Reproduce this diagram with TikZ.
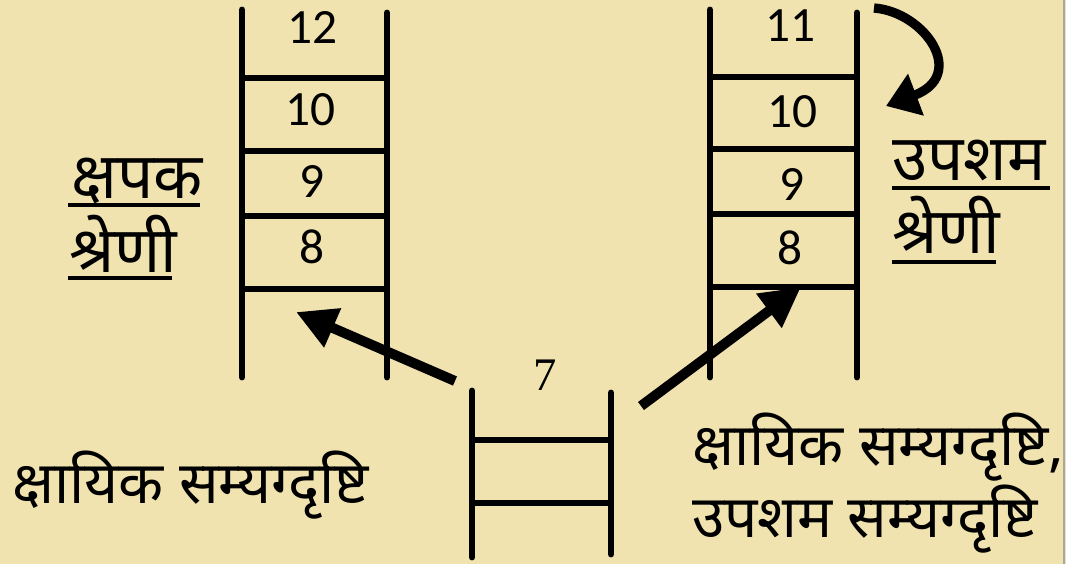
\documentclass[tikz,border=0pt]{standalone}
\usepackage{fontspec}
\setmainfont{Carlito}
\newfontfamily\dev[Script=Devanagari]{Noto Sans}
\newfontfamily\serifnum{Liberation Serif}
\usetikzlibrary{arrows.meta}
\definecolor{bg}{RGB}{240,227,176}
\tikzset{
  rail/.style={line width=5.2pt, line cap=round},
  rung/.style={line width=5.2pt},
  num/.style={font=\fontsize{37}{40}\selectfont, inner sep=0pt},
  lab/.style={font=\dev\fontsize{48}{52}\selectfont, inner sep=0pt, anchor=base west},
  txt/.style={font=\dev\fontsize{44}{48}\selectfont, inner sep=0pt, anchor=base west},
  uline/.style={line width=2.4pt},
  bigarrow/.style={line width=7.5pt, -{Triangle[length=30pt,width=30pt]}}
}
\begin{document}
\begin{tikzpicture}[x=0.75pt,y=-0.75pt]
\fill[bg] (0,0) rectangle (1066,564);
\useasboundingbox (0,0) rectangle (1066,564);
\draw[gray!70, line width=1pt] (1064,0) -- (1064,564);
% left ladder
\draw[rail] (242,10) -- (242,377);
\draw[rail] (387,13) -- (387,377);
\foreach \y in {78,151,216,289} \draw[rung] (242,\y) -- (387,\y);
\node[num] (l12) at (312,27) {12};
\node[num] (l10) at (310,110) {10};
\node[num] (l9) at (312,181) {9};
\node[num] (l8) at (312,247) {8};
% right ladder
\draw[rail] (710,10) -- (710,377);
\draw[rail] (857,13) -- (857,377);
\foreach \y in {77,149,214,287} \draw[rung] (710,\y) -- (857,\y);
\node[num] (r11) at (790,26) {11};
\node[num] (r10) at (792,112) {10};
\node[num] (r9) at (792,184) {9};
\node[num] (r8) at (790,248) {8};
% middle ladder
\draw[rail] (472,391) -- (472,557);
\draw[rail] (611,393) -- (611,554);
\foreach \y in {440,503} \draw[rung] (472,\y) -- (611,\y);
\node[num, font=\serifnum\fontsize{35}{40}\selectfont] (m7) at (545,375) {7};
% labels
\node[lab] (kshapak) at (71,198) {क्षपक};
\draw[uline] (68,205) -- (200,205);
\node[lab] (shreni1) at (69,272) {श्रेणी};
\draw[uline] (68,278) -- (172,278);
\node[lab] (upasham) at (892,180) {उपशम};
\draw[uline] (892,188) -- (1050,188);
\node[lab] (shreni2) at (892,253) {श्रेणी};
\draw[uline] (892,262) -- (996,262);
\node[txt] (ks1) at (12,503) {क्षायिक सम्यग्दृष्टि};
\node[txt] (ks2) at (692,465) {क्षायिक सम्यग्दृष्टि,};
\node[txt] (us) at (692,537) {उपशम सम्यग्दृष्टि};
% arrows
\coordinate (la1) at (455,381);
\coordinate (la2) at (296,312);
\coordinate (ra1) at (641,406);
\coordinate (ra2) at (801,287);
\draw[bigarrow] (la1) -- (la2);
\draw[bigarrow] (ra1) -- (ra2);
\coordinate (c1) at (874,8);
\coordinate (c2) at (886,106);
\draw[line width=7pt, -{Triangle[length=24pt,width=32pt]}] (c1) .. controls (925,12) and (968,75) .. (c2);
\end{tikzpicture}
\end{document}
